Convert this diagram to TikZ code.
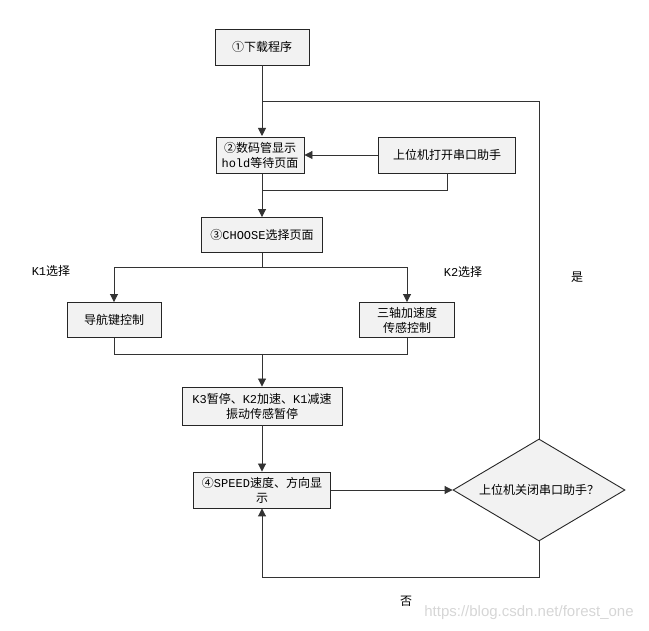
\documentclass[tikz,border=0pt]{standalone}
\usepackage{fontspec}
\setmainfont{Noto Sans CJK SC}
\newfontfamily\lat{Liberation Mono}
\newfontfamily\wm{Liberation Sans}
\usetikzlibrary{shapes.geometric,arrows.meta}
\definecolor{boxgray}{HTML}{F2F2F2}
\definecolor{linegray}{HTML}{333333}
\definecolor{wmgray}{HTML}{D6D6D6}
\begin{document}
\begin{tikzpicture}[x=1pt,y=-1pt,
  txt/.style={font=\fontsize{12}{15}\selectfont, text=black},
  box/.style={txt, draw=black!85, fill=boxgray, line width=0.9pt, minimum width=#1, minimum height=36pt, inner sep=1pt, align=center},
  box/.default=94,
  dec/.style={txt, shape=diamond, shape aspect=1.69, draw=black!85, fill=boxgray, line width=0.9pt, minimum width=172pt, minimum height=102pt, inner sep=0pt},
  conn/.style={draw=linegray, line width=0.9pt},
  arr/.style={conn, -{Triangle[length=8pt,width=8pt]}},
  lbl/.style={txt, inner sep=0pt}
]
\useasboundingbox (0,0) rectangle (649,631);

\node[box=94] (b1) at (262,47) {①下载程序};
\node[box=88] (b2) at (260,155) {②数码管显示\\{\lat hold}等待页面};
\node[box=137] (host) at (447,155) {上位机打开串口助手};
\node[box=121,minimum height=35pt] (b3) at (262,235) {③{\lat CHOOSE}选择页面};
\node[box=94,minimum height=35pt] (nav) at (114,320) {导航键控制};
\node[box=95,minimum height=35pt] (acc) at (407,320) {三轴加速度\\传感控制};
\node[box=160,minimum height=38pt] (k3) at (262,406) {{\lat K3}暂停、{\lat K2}加速、{\lat K1}减速\\振动传感暂停};
\node[box=137] (sp) at (262,490) {④{\lat SPEED}速度、方向显\\示};
\node[dec] (dia) at (539,490) {上位机关闭串口助手？};

\node[lbl] (lk1) at (51,271) {{\lat K1}选择};
\node[lbl] (lk2) at (463,272) {{\lat K2}选择};
\node[lbl] (lyes) at (577,277) {是};
\node[lbl] (lno) at (406,601) {否};
\node[inner sep=0pt, text=wmgray, font=\wm\fontsize{15}{18}\selectfont] (wmk) at (529,613) {https://blog.csdn.net/forest\_one};

\coordinate (j1) at (262,101);
\coordinate (j2) at (262,190);
\coordinate (j3) at (262,267);
\coordinate (j4) at (262,354);
\coordinate (j5) at (262,577);
\coordinate (b2top) at (262,136);
\coordinate (b2bot) at (262,174);

\draw[arr] (b1) -- (b2top);
\draw[conn] (dia.north) |- (j1);
\draw[arr] (host.west) -- (b2.east);
\draw[conn] (host.south) |- (j2);
\draw[arr] (b2bot) -- (b3);
\draw[conn] (b3.south) -- (j3);
\draw[arr] (j3) -| (nav.north);
\draw[arr] (j3) -| (acc.north);
\draw[conn] (nav.south) |- (j4);
\draw[conn] (acc.south) |- (j4);
\draw[arr] (j4) -- (k3.north);
\draw[arr] (k3) -- (sp);
\draw[arr] (sp.east) -- (dia.west);
\draw[conn] (dia.south) |- (j5);
\draw[arr] (j5) -- (sp.south);
\end{tikzpicture}
\end{document}
